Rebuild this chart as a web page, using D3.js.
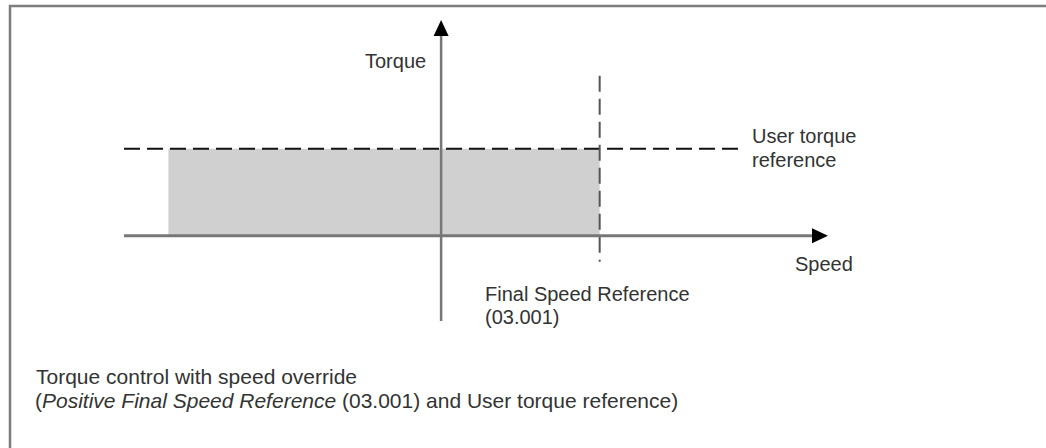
<!DOCTYPE html>
<html>
<head>
<meta charset="utf-8">
<script src="https://cdn.jsdelivr.net/npm/d3@7"></script>
<style>
  html, body { margin: 0; padding: 0; background: #fff; }
  svg { display: block; }
  text { font-family: "Liberation Sans", Arial, sans-serif; fill: #333; }
</style>
</head>
<body>
<svg id="chart" width="1046" height="448"></svg>
<script>
// ---- data (abstract units) ----
const speedExtent = [-100, 122];      // horizontal axis span
const torqueExtent = [-98, 248];      // vertical axis span
const userTorqueRef = [100];          // user torque reference level
const finalSpeedRef = [50];           // final speed reference (03.001)
const torqueRefLineEnd = [95];        // end of dashed torque ref line
const operatingRegion = [-86, 50];    // shaded speed range
const speedRefLineSpan = [-30, 184];  // vertical dashed line span (torque units)
const labels = {
  torque: "Torque",
  speed: "Speed",
  userRef: ["User torque", "reference"],
  finalRef: ["Final Speed Reference", "(03.001)"]
};
const captionLine1 = "Torque control with speed override";
const captionLine2 = [
  {t: "(", i: false},
  {t: "Positive Final Speed Reference", i: true},
  {t: " (03.001) and User torque reference)", i: false}
];

// ---- scales ----
const x = d3.scaleLinear().domain(speedExtent).range([124, 828]);
const y = d3.scaleLinear().domain(torqueExtent).range([321, 20]);

const svg = d3.select("#chart");

// frame (extends beyond right/bottom edges)
svg.append("path")
  .attr("d", "M10,460 L10,6 L1060,6")
  .attr("fill", "none")
  .attr("stroke", "#7d7d7d")
  .attr("stroke-width", 2.5);

// shaded region
svg.append("rect")
  .attr("x", x(operatingRegion[0]))
  .attr("y", y(userTorqueRef[0]))
  .attr("width", x(operatingRegion[1]) - x(operatingRegion[0]))
  .attr("height", y(0) - y(userTorqueRef[0]))
  .attr("fill", "#d0d0d0");

// torque reference dashed line
svg.append("line")
  .attr("x1", x(speedExtent[0])).attr("x2", x(torqueRefLineEnd[0]))
  .attr("y1", y(userTorqueRef[0])).attr("y2", y(userTorqueRef[0]))
  .attr("stroke", "#111").attr("stroke-width", 2)
  .attr("stroke-dasharray", "16,7");

// speed reference dashed line
svg.append("line")
  .attr("x1", x(finalSpeedRef[0])).attr("x2", x(finalSpeedRef[0]))
  .attr("y1", y(speedRefLineSpan[1])).attr("y2", y(speedRefLineSpan[0]))
  .attr("stroke", "#555").attr("stroke-width", 2)
  .attr("stroke-dasharray", "16,7");

// horizontal axis
svg.append("line")
  .attr("x1", x(speedExtent[0])).attr("x2", x(speedExtent[1]) - 14)
  .attr("y1", y(0)).attr("y2", y(0))
  .attr("stroke", "#777").attr("stroke-width", 3);
// vertical axis
svg.append("line")
  .attr("x1", x(0)).attr("x2", x(0))
  .attr("y1", y(torqueExtent[1]) + 14).attr("y2", y(torqueExtent[0]))
  .attr("stroke", "#777").attr("stroke-width", 2.5);

// arrowheads
const ax = x(speedExtent[1]), ay = y(0);
svg.append("path")
  .attr("d", `M${ax},${ay} L${ax-16},${ay-7.5} L${ax-16},${ay+7.5} Z`)
  .attr("fill", "#000");
const ux = x(0), uy = y(torqueExtent[1]);
svg.append("path")
  .attr("d", `M${ux},${uy} L${ux-7.5},${uy+16} L${ux+7.5},${uy+16} Z`)
  .attr("fill", "#000");

// labels
const fs = 20;
svg.append("text").attr("x", 365).attr("y", 68).attr("font-size", fs).text(labels.torque);
svg.append("text").attr("x", 795).attr("y", 271).attr("font-size", fs).text(labels.speed);
labels.userRef.forEach((t, i) => {
  svg.append("text").attr("x", 752).attr("y", 143 + i * 24).attr("font-size", fs).text(t);
});
labels.finalRef.forEach((t, i) => {
  svg.append("text").attr("x", 485).attr("y", 301 + i * 23).attr("font-size", fs).text(t);
});

// caption
svg.append("text").attr("x", 36).attr("y", 384).attr("font-size", 21).text(captionLine1);
const c2 = svg.append("text").attr("x", 35).attr("y", 408).attr("font-size", 21);
captionLine2.forEach(p => {
  c2.append("tspan").attr("font-style", p.i ? "italic" : "normal").text(p.t);
});
</script>
</body>
</html>
